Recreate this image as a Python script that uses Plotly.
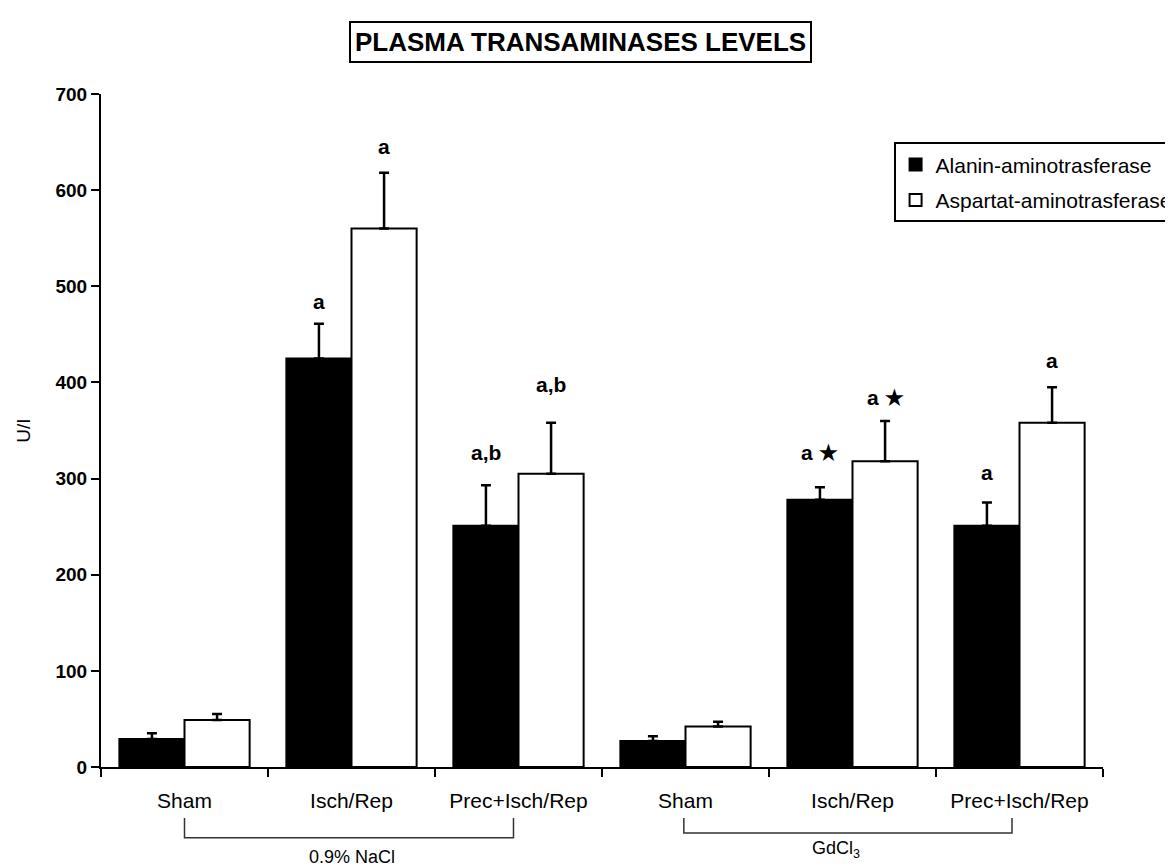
import plotly.graph_objects as go

# ---- data ----
group_ids = ["NaCl_Sham", "NaCl_IR", "NaCl_PIR", "Gd_Sham", "Gd_IR", "Gd_PIR"]
tick_labels = ["Sham", "Isch/Rep", "Prec+Isch/Rep", "Sham", "Isch/Rep", "Prec+Isch/Rep"]
series_names = ["Alanin-aminotrasferase", "Aspartat-aminotrasferase"]
alt_values = [29, 425, 251, 27, 278, 251]
alt_errors = [6, 36, 42, 5, 13, 24]
ast_values = [49, 560, 305, 42, 318, 358]
ast_errors = [6, 58, 53, 5, 42, 37]
alt_labels = ["", "a", "a,b", "", "a \u2605", "a"]
ast_labels = ["", "a", "a,b", "", "a \u2605", "a"]
group_names = ["0.9% NaCl", "GdCl<sub>3</sub>"]

FONT = "Liberation Sans, Arial, sans-serif"
BARGAP = 0.22

fig = go.Figure()
fig.add_trace(go.Bar(
    x=group_ids, y=alt_values, name=series_names[0], legendgroup="alt",
    marker=dict(color="black", line=dict(color="black", width=2)),
    error_y=dict(type="data", array=alt_errors, symmetric=False,
                 arrayminus=[0] * len(alt_errors), color="black",
                 thickness=2.5, width=5),
))
fig.add_trace(go.Bar(
    x=group_ids, y=ast_values, name=series_names[1], legendgroup="ast",
    marker=dict(color="white", line=dict(color="black", width=2)),
    error_y=dict(type="data", array=ast_errors, symmetric=False,
                 arrayminus=[0] * len(ast_errors), color="black",
                 thickness=2.5, width=5),
))

annotations = []
half = (1 - BARGAP) / 4
alt_shift = [0, 22, 33, 0, 35, 30]
ast_shift = [0, 26, 38, 0, 23, 27]
for i in range(len(group_ids)):
    for lbls, vals, errs, sh, off in ((alt_labels, alt_values, alt_errors, alt_shift, -half),
                                      (ast_labels, ast_values, ast_errors, ast_shift, half)):
        if lbls[i]:
            annotations.append(dict(
                x=i + off, y=vals[i] + errs[i], xref="x", yref="y",
                text="<b>" + lbls[i] + "</b>", showarrow=False,
                yanchor="middle", yshift=sh[i],
                font=dict(family=FONT, size=21, color="black")))

# title box
annotations.append(dict(
    x=0.479, y=1.078, xref="paper", yref="paper",
    text="<b>PLASMA TRANSAMINASES LEVELS</b>", showarrow=False,
    font=dict(family=FONT, size=26, color="black"),
    bordercolor="black", borderwidth=2, borderpad=4, bgcolor="white",
    xanchor="center", yanchor="middle"))

# group labels
annotations.append(dict(x=1.0, y=-0.134, xref="x", yref="paper", text=group_names[0],
                        showarrow=False, font=dict(family=FONT, size=18, color="black"),
                        yanchor="middle"))
annotations.append(dict(x=3.9, y=-0.122, xref="x", yref="paper", text=group_names[1],
                        showarrow=False, font=dict(family=FONT, size=18, color="black"),
                        yanchor="middle"))

shapes = []
for (x0, x1, ybot) in ((0.0, 1.97, -0.105), (2.99, 4.955, -0.098)):
    shapes.append(dict(type="path", xref="x", yref="paper",
                       path=f"M {x0},-0.0757 L {x0},{ybot} L {x1},{ybot} L {x1},-0.0757",
                       line=dict(color="#333333", width=1.5)))

# the page body has an 8px margin, so the figure is sized/offset to compensate
fig.update_layout(
    width=1165, height=858,
    margin=dict(l=93, r=70, t=86, b=99, autoexpand=False),
    paper_bgcolor="white", plot_bgcolor="white",
    barmode="group", bargap=BARGAP, bargroupgap=0,
    font=dict(family=FONT, color="black"),
    showlegend=True,
    legend=dict(x=0.791, y=0.928, xanchor="left", yanchor="top",
                bordercolor="black", borderwidth=2, bgcolor="white",
                font=dict(family=FONT, size=21, color="black"),
                tracegroupgap=5, traceorder="grouped"),
    annotations=annotations,
    shapes=shapes,
)
fig.update_xaxes(
    type="category", tickmode="array", tickvals=group_ids, ticktext=tick_labels,
    tickson="boundaries", ticks="outside", ticklen=8, tickwidth=2, tickcolor="black",
    showline=True, linecolor="black", linewidth=2, showgrid=False,
    tickfont=dict(family=FONT, size=21, color="black"),
    ticklabelstandoff=14, range=[-0.5, 5.5], automargin=False,
)
fig.update_yaxes(
    range=[0, 700], dtick=100, tick0=0, ticks="outside", ticklen=8, tickwidth=2,
    tickcolor="black", showline=True, linecolor="black", linewidth=2,
    showgrid=False, zeroline=False, automargin=False,
    tickfont=dict(family=FONT, size=19, color="black"),
    tickprefix="<b>", ticksuffix="</b>",
    title=dict(text="U/I", font=dict(family=FONT, size=19, color="black"), standoff=20),
)

fig.write_html("out.html")
